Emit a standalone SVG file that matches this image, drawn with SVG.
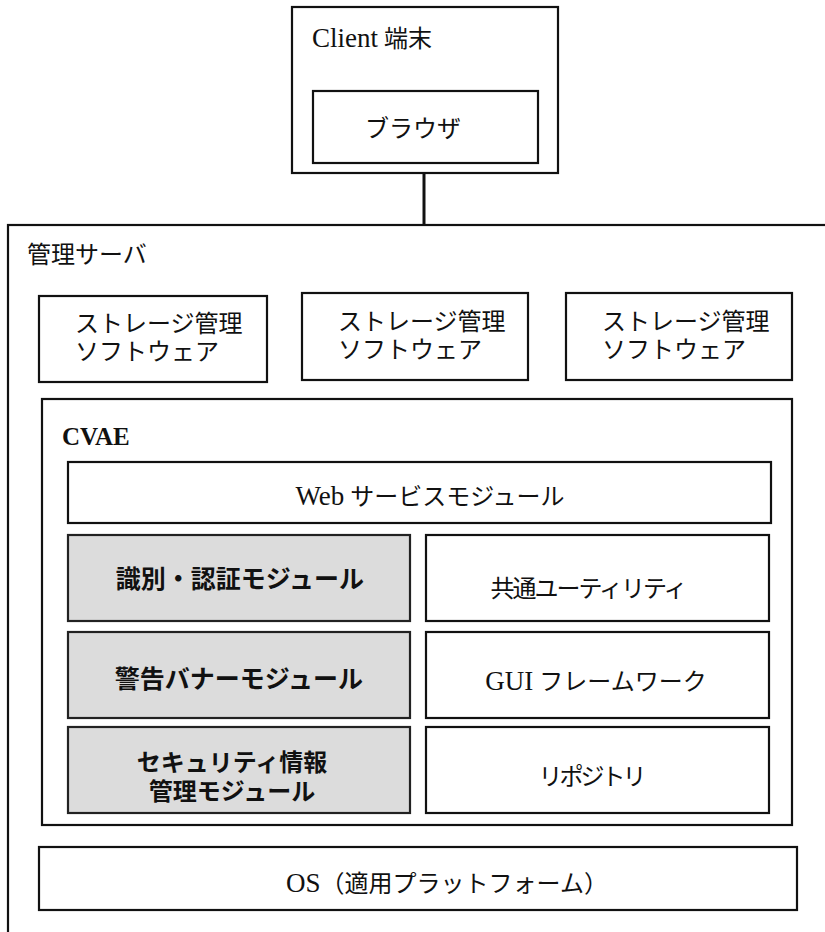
<svg xmlns="http://www.w3.org/2000/svg" width="825" height="932" viewBox="0 0 825 932">
<style>
.box{fill:#fff;stroke:#111;stroke-width:2.2}
.grey{fill:#dcdcdc;stroke:#222;stroke-width:2.2}
.t{font-family:"Liberation Serif","Noto Sans CJK JP",serif;font-size:24px;fill:#111}
.tb{font-family:"Liberation Sans","Noto Sans CJK JP",sans-serif;font-size:24px;font-weight:bold;fill:#111}
.c{text-anchor:middle}
.lat{font-size:27px}
</style>
<rect width="825" height="932" fill="#fff"/>
<g id="server">
<rect class="box" x="8" y="225" width="840" height="730"/>
<text class="t" x="27" y="263">管理サーバ</text>
</g>
<g id="connectors">
<line x1="424" y1="173" x2="424" y2="225" stroke="#111" stroke-width="3"/>
</g>
<g id="client">
<rect class="box" x="292" y="7" width="266" height="166"/>
<text class="t" x="312" y="47"><tspan class="lat">Client</tspan> 端末</text>
</g>
<g id="browser">
<rect class="box" x="313" y="91" width="225" height="72"/>
<text class="t c" x="413" y="137">ブラウザ</text>
</g>
<g id="storage1">
<rect class="box" x="39" y="296" width="228" height="86"/>
<text class="t" x="75" y="332">ストレージ管理</text>
<text class="t" x="75" y="360">ソフトウェア</text>
</g>
<g id="storage2">
<rect class="box" x="302" y="293" width="226" height="87"/>
<text class="t" x="338" y="330">ストレージ管理</text>
<text class="t" x="338" y="358">ソフトウェア</text>
</g>
<g id="storage3">
<rect class="box" x="566" y="293" width="226" height="87"/>
<text class="t" x="602" y="330">ストレージ管理</text>
<text class="t" x="602" y="358">ソフトウェア</text>
</g>
<g id="cvae">
<rect class="box" x="42" y="399" width="750" height="426"/>
<text x="62" y="445" style="font-family:'Liberation Serif',serif;font-size:25px;font-weight:bold;fill:#111">CVAE</text>
</g>
<g id="web">
<rect class="box" x="68" y="462" width="703" height="61"/>
<text class="t c" x="430" y="505"><tspan class="lat">Web</tspan> サービスモジュール</text>
</g>
<g id="auth">
<rect class="grey" x="68" y="535" width="342" height="86"/>
<text class="tb c" x="240" y="588" style="font-size:25px">識別・認証モジュール</text>
</g>
<g id="common">
<rect class="box" x="426" y="535" width="343" height="86"/>
<text class="t c" x="588" y="597" style="letter-spacing:-2px">共通ユーティリティ</text>
</g>
<g id="banner">
<rect class="grey" x="68" y="632" width="342" height="86"/>
<text class="tb c" x="239" y="688" style="font-size:25px">警告バナーモジュール</text>
</g>
<g id="gui">
<rect class="box" x="426" y="632" width="343" height="86"/>
<text class="t c" x="596" y="690"><tspan class="lat">GUI</tspan> フレームワーク</text>
</g>
<g id="security">
<rect class="grey" x="68" y="727" width="342" height="86"/>
<text class="tb c" x="232" y="771">セキュリティ情報</text>
<text class="tb c" x="232" y="800">管理モジュール</text>
</g>
<g id="repo">
<rect class="box" x="426" y="727" width="343" height="86"/>
<text class="t c" x="591" y="785" style="letter-spacing:-3px">リポジトリ</text>
</g>
<g id="os">
<rect class="box" x="39" y="847" width="758" height="63"/>
<text class="t c" x="447" y="892"><tspan class="lat">OS</tspan>（適用プラットフォーム）</text>
</g>
</svg>
